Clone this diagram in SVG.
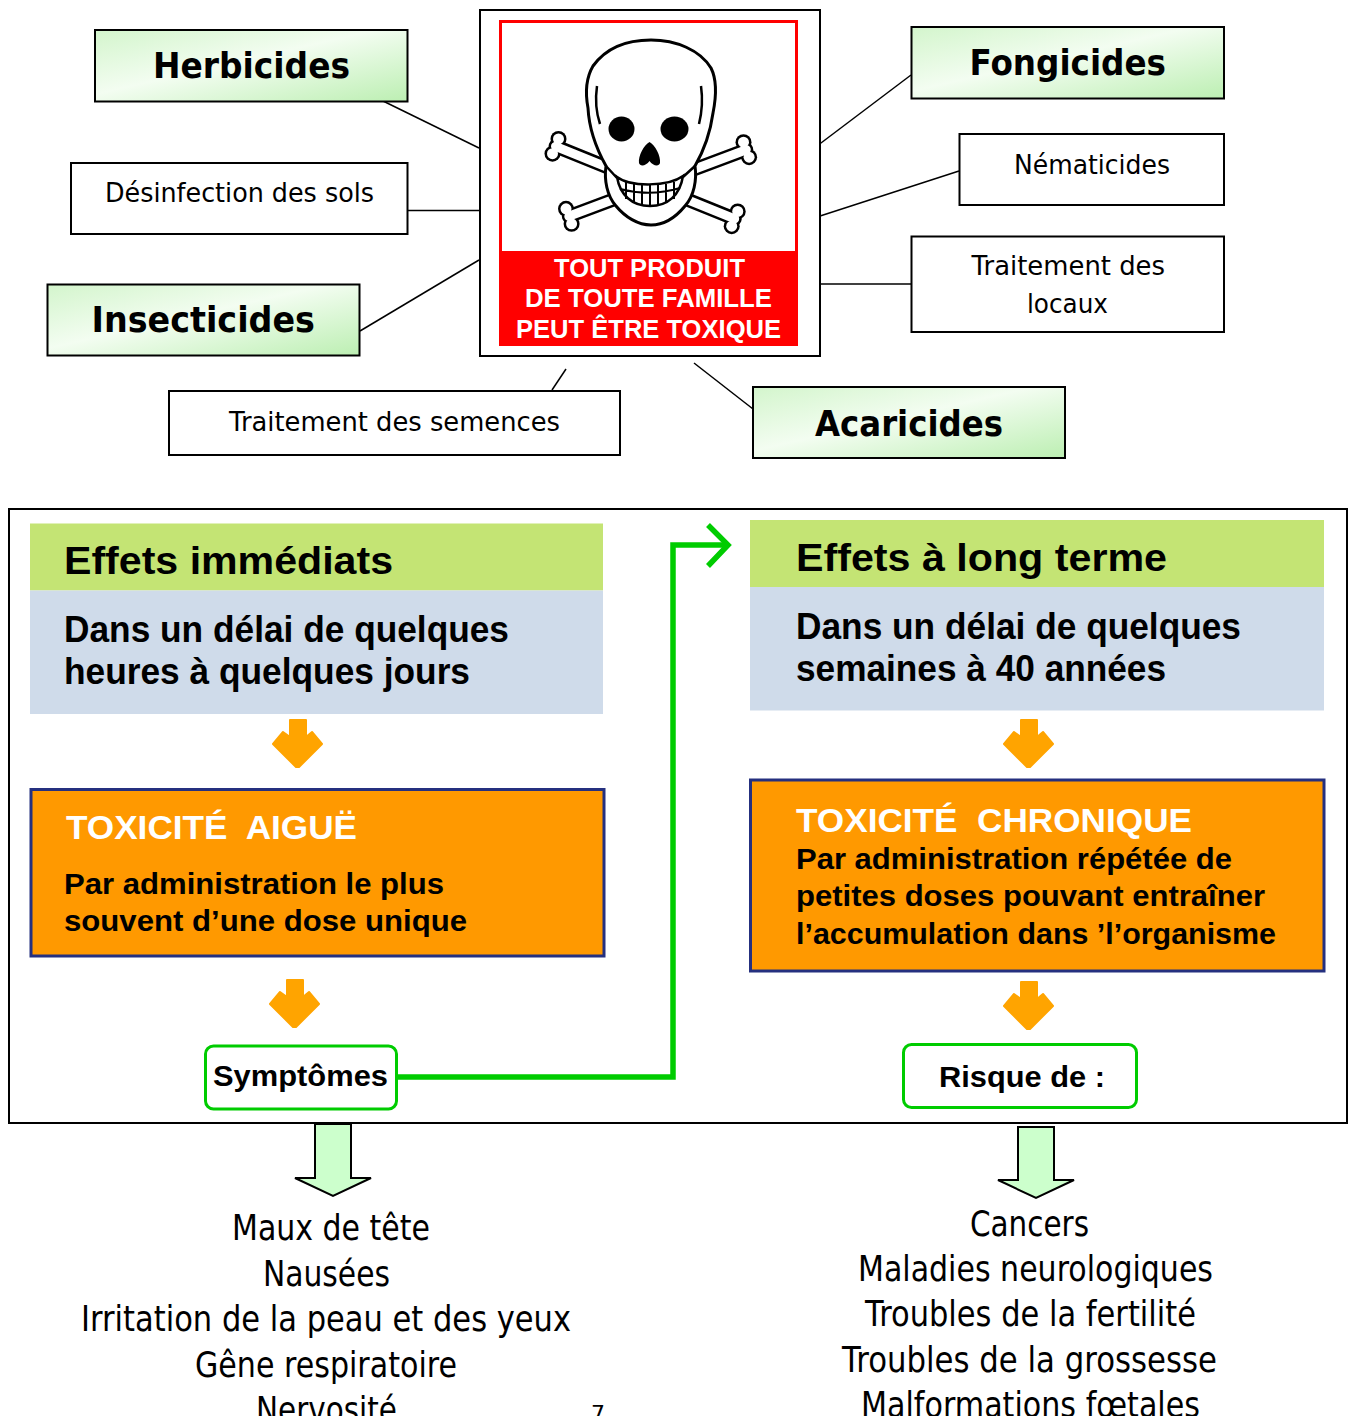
<svg xmlns="http://www.w3.org/2000/svg" width="1356" height="1416" viewBox="0 0 1356 1416">
<defs>
<linearGradient id="lg" x1="0" y1="0" x2="1" y2="1">
<stop offset="0" stop-color="#d3f5cc"/>
<stop offset="0.45" stop-color="#f3fdf1"/>
<stop offset="1" stop-color="#bcefb2"/>
</linearGradient>
<style>
.box{fill:#fff;stroke:#000;stroke-width:2}
.gbox{fill:url(#lg);stroke:#000;stroke-width:2}
.lbl{font-family:"DejaVu Sans",Verdana,sans-serif;font-size:26px;fill:#000}
.blbl{font-family:"DejaVu Sans",Verdana,sans-serif;font-weight:bold;font-size:36px;fill:#000}
.ar{font-family:"Liberation Sans",Arial,sans-serif;font-weight:bold;fill:#000}
.conn{stroke:#000;stroke-width:1.5;fill:none}
.oarrow{fill:#ffa400;stroke:#ffa400;stroke-width:2;stroke-linejoin:round}
.lst{font-family:"DejaVu Sans",Verdana,sans-serif;font-size:36px;fill:#000}
.garrow{fill:#ccffcc;stroke:#000;stroke-width:2}
.hdr{fill:#c4e474}
.sub{fill:#cfdbea}
.obox{fill:#ff9900;stroke:#25307f;stroke-width:3}
.rbox{fill:#fff;stroke:#00cc00;stroke-width:3}
.sk{fill:#fff;stroke:#000;stroke-width:3;stroke-linejoin:round}
</style>
</defs>
<rect width="1356" height="1416" fill="#fff"/>

<g id="connectors">
<line class="conn" x1="383" y1="101" x2="479" y2="148"/>
<line class="conn" x1="407" y1="210.5" x2="479" y2="210.5"/>
<line class="conn" x1="360" y1="331" x2="479" y2="260"/>
<line class="conn" x1="552" y1="390" x2="566" y2="369"/>
<line class="conn" x1="694" y1="363" x2="753" y2="409"/>
<line class="conn" x1="911" y1="75" x2="817" y2="146"/>
<line class="conn" x1="959" y1="171" x2="817" y2="217"/>
<line class="conn" x1="911" y1="284" x2="817" y2="284"/>
<polyline points="396,1077 673,1077 673,545 727,545" fill="none" stroke="#00cc00" stroke-width="5.5"/>
<polyline points="708,525 728,545 708,566" fill="none" stroke="#00cc00" stroke-width="5.5"/>
<polygon class="garrow" points="315,1124 351,1124 351,1178 371,1178 333,1196 295,1178 315,1178"/>
<polygon class="garrow" points="1018,1127 1054,1127 1054,1180 1074,1180 1036,1198 998,1180 1018,1180"/>
</g>

<g id="poison">
<rect x="480" y="10" width="340" height="346" fill="#fff" stroke="#000" stroke-width="2"/>
<rect x="500.5" y="21.5" width="296" height="323" fill="#fff" stroke="#ff0000" stroke-width="3"/>
<rect x="500" y="251" width="297" height="94" fill="#ff0000"/>
<g id="bones">
<g fill="#000" stroke="#000">
<line x1="555.5" y1="146.3" x2="734.7" y2="218.8" stroke-width="14" stroke-linecap="round"/>
<line x1="746.3" y1="149.7" x2="568.8" y2="216.3" stroke-width="14" stroke-linecap="round"/>
<circle cx="552.5" cy="153.7" r="8" stroke="none"/><circle cx="558.5" cy="138.9" r="8" stroke="none"/>
<circle cx="731.7" cy="226.2" r="8" stroke="none"/><circle cx="737.7" cy="211.4" r="8" stroke="none"/>
<circle cx="749.1" cy="157.2" r="8" stroke="none"/><circle cx="743.5" cy="142.2" r="8" stroke="none"/>
<circle cx="571.6" cy="223.8" r="8" stroke="none"/><circle cx="566" cy="208.8" r="8" stroke="none"/>
</g>
<g fill="#fff" stroke="#fff">
<line x1="555.5" y1="146.3" x2="734.7" y2="218.8" stroke-width="9" stroke-linecap="round"/>
<line x1="746.3" y1="149.7" x2="568.8" y2="216.3" stroke-width="9" stroke-linecap="round"/>
<circle cx="552.5" cy="153.7" r="5.5" stroke="none"/><circle cx="558.5" cy="138.9" r="5.5" stroke="none"/>
<circle cx="731.7" cy="226.2" r="5.5" stroke="none"/><circle cx="737.7" cy="211.4" r="5.5" stroke="none"/>
<circle cx="749.1" cy="157.2" r="5.5" stroke="none"/><circle cx="743.5" cy="142.2" r="5.5" stroke="none"/>
<circle cx="571.6" cy="223.8" r="5.5" stroke="none"/><circle cx="566" cy="208.8" r="5.5" stroke="none"/>
</g>
</g>
<g id="skull">
<path class="sk" d="M606,166 C596,148 589,128 588,108 C585,92 586,78 593,66 C606,48 627,40 651,40 C676,40 700,50 711,68 C717,80 716,98 713,113 C710,135 703,152 695,166 C697,180 694,196 685,206 C676,217 664,225 651,225 C638,225 625,217 616,206 C607,196 604,180 606,166 Z"/>
<path d="M597,86 C595,100 596,112 600,124 M701,86 C703,100 702,112 699,124 M606,166 L617,178 M695,166 L683,177" fill="none" stroke="#000" stroke-width="2.5"/>
<ellipse cx="621.5" cy="129" rx="13" ry="12.5" fill="#000"/>
<ellipse cx="674.5" cy="129" rx="14" ry="12.5" fill="#000"/>
<path d="M649.5,142 C644,145 638,156 639,163 C640,167 646,166 649.5,161 C653,166 659,167 660,163 C661,156 655,145 649.5,142 Z" fill="#000"/>
<path d="M617,177 C630,187 668,187 683,176 C680,195 668,206 650,206 C632,206 620,195 617,177 Z" fill="#fff" stroke="#000" stroke-width="2.5"/>
<path d="M620,189 Q650,197 680,188 M626,182 L626,199 M634,184 L634,203 M642,185 L642,205 M650,185 L650,206 M658,185 L658,205 M666,184 L666,203 M674,182 L674,199" fill="none" stroke="#000" stroke-width="2"/>
</g>
<text class="ar" font-size="25.5" fill="#fff" style="fill:#fff" x="554" y="276.5" textLength="191" lengthAdjust="spacingAndGlyphs">TOUT PRODUIT</text>
<text class="ar" font-size="25.5" style="fill:#fff" x="525" y="307" textLength="247" lengthAdjust="spacingAndGlyphs">DE TOUTE FAMILLE</text>
<text class="ar" font-size="25.5" style="fill:#fff" x="516" y="337.5" textLength="265" lengthAdjust="spacingAndGlyphs">PEUT ÊTRE TOXIQUE</text>
</g>

<g id="herbicides">
<rect class="gbox" x="95" y="30" width="312.5" height="71.5"/>
<text class="blbl" x="153" y="78" textLength="197" lengthAdjust="spacingAndGlyphs">Herbicides</text>
</g>
<g id="desinfection">
<rect class="box" x="71" y="163" width="336.5" height="71"/>
<text class="lbl" x="105" y="201.5" textLength="269" lengthAdjust="spacingAndGlyphs">Désinfection des sols</text>
</g>
<g id="insecticides">
<rect class="gbox" x="47.5" y="284.5" width="312" height="71"/>
<text class="blbl" x="91.5" y="331.5" textLength="223.5" lengthAdjust="spacingAndGlyphs">Insecticides</text>
</g>
<g id="semences">
<rect class="box" x="169" y="391" width="451" height="64"/>
<text class="lbl" x="229" y="430.5" textLength="331" lengthAdjust="spacingAndGlyphs">Traitement des semences</text>
</g>
<g id="acaricides">
<rect class="gbox" x="753" y="387" width="312" height="71"/>
<text class="blbl" x="815" y="435.5" textLength="188" lengthAdjust="spacingAndGlyphs">Acaricides</text>
</g>
<g id="fongicides">
<rect class="gbox" x="911.5" y="27" width="312.5" height="71.5"/>
<text class="blbl" x="969.5" y="75" textLength="196.5" lengthAdjust="spacingAndGlyphs">Fongicides</text>
</g>
<g id="nematicides">
<rect class="box" x="959.5" y="134" width="264.5" height="71"/>
<text class="lbl" x="1014" y="174" textLength="156" lengthAdjust="spacingAndGlyphs">Nématicides</text>
</g>
<g id="locaux">
<rect class="box" x="911.5" y="236.5" width="312.5" height="95.5"/>
<text class="lbl" x="971.5" y="275" textLength="193.5" lengthAdjust="spacingAndGlyphs">Traitement des</text>
<text class="lbl" x="1027" y="313.3" textLength="81" lengthAdjust="spacingAndGlyphs">locaux</text>
</g>

<g id="frame">
<rect x="9" y="509" width="1338" height="614" fill="none" stroke="#000" stroke-width="2"/>
</g>

<g id="effets-immediats">
<rect class="hdr" x="30" y="523.5" width="573" height="67"/>
<rect class="sub" x="30" y="590.5" width="573" height="123.5"/>
<text class="ar" font-size="38" x="64" y="574" textLength="329" lengthAdjust="spacingAndGlyphs">Effets immédiats</text>
<text class="ar" font-size="36" x="64" y="642" textLength="445" lengthAdjust="spacingAndGlyphs">Dans un délai de quelques</text>
<text class="ar" font-size="36" x="64" y="684" textLength="406" lengthAdjust="spacingAndGlyphs">heures à quelques jours</text>
</g>
<g id="effets-long-terme">
<rect class="hdr" x="750" y="520" width="574" height="67"/>
<rect class="sub" x="750" y="587" width="574" height="123.5"/>
<text class="ar" font-size="38" x="796" y="570.5" textLength="371" lengthAdjust="spacingAndGlyphs">Effets à long terme</text>
<text class="ar" font-size="36" x="796" y="638.5" textLength="445" lengthAdjust="spacingAndGlyphs">Dans un délai de quelques</text>
<text class="ar" font-size="36" x="796" y="680.5" textLength="370" lengthAdjust="spacingAndGlyphs">semaines à 40 années</text>
</g>

<g id="arrows-orange">
<polygon class="oarrow" points="290,720 306,720 306,737 312,732 322,744 299,767 296,767 273,744 283,732 290,737"/>
<polygon class="oarrow" points="287,980 303,980 303,997 309,992 319,1004 296,1027 293,1027 270,1004 280,992 287,997"/>
<polygon class="oarrow" points="1021,720 1037,720 1037,737 1043,732 1053,744 1030,767 1027,767 1004,744 1014,732 1021,737"/>
<polygon class="oarrow" points="1021,982 1037,982 1037,999 1043,994 1053,1006 1030,1029 1027,1029 1004,1006 1014,994 1021,999"/>
</g>

<g id="toxicite-aigue">
<rect class="obox" x="31" y="789.5" width="573" height="166.5"/>
<text class="ar" font-size="33" style="fill:#fff;white-space:pre" x="66" y="838.5" textLength="291" lengthAdjust="spacingAndGlyphs">TOXICITÉ  AIGUË</text>
<text class="ar" font-size="29" x="64" y="893.5" textLength="380" lengthAdjust="spacingAndGlyphs">Par administration le plus</text>
<text class="ar" font-size="29" x="64" y="931" textLength="403" lengthAdjust="spacingAndGlyphs">souvent d’une dose unique</text>
</g>
<g id="toxicite-chronique">
<rect class="obox" x="750.5" y="780" width="573.5" height="191"/>
<text class="ar" font-size="33" style="fill:#fff;white-space:pre" x="796" y="832" textLength="396" lengthAdjust="spacingAndGlyphs">TOXICITÉ  CHRONIQUE</text>
<text class="ar" font-size="29" x="796" y="868.5" textLength="436" lengthAdjust="spacingAndGlyphs">Par administration répétée de</text>
<text class="ar" font-size="29" x="796" y="906" textLength="469" lengthAdjust="spacingAndGlyphs">petites doses pouvant entraîner</text>
<text class="ar" font-size="29" x="796" y="943.5" textLength="480" lengthAdjust="spacingAndGlyphs">l’accumulation dans ’l’organisme</text>
</g>

<g id="symptomes">
<rect class="rbox" x="205.5" y="1046" width="191" height="63" rx="8"/>
<text class="ar" font-size="29" x="213" y="1086" textLength="175" lengthAdjust="spacingAndGlyphs">Symptômes</text>
</g>
<g id="risque">
<rect class="rbox" x="903.5" y="1044.5" width="233" height="63" rx="8"/>
<text class="ar" font-size="29" x="939" y="1087" textLength="166" lengthAdjust="spacingAndGlyphs">Risque de :</text>
</g>

<g id="liste-symptomes">
<text class="lst" x="232" y="1240" textLength="198" lengthAdjust="spacingAndGlyphs">Maux de tête</text>
<text class="lst" x="263" y="1285.5" textLength="127" lengthAdjust="spacingAndGlyphs">Nausées</text>
<text class="lst" x="81" y="1331" textLength="490" lengthAdjust="spacingAndGlyphs">Irritation de la peau et des yeux</text>
<text class="lst" x="195" y="1376.5" textLength="262" lengthAdjust="spacingAndGlyphs">Gêne respiratoire</text>
<text class="lst" x="256" y="1422" textLength="141" lengthAdjust="spacingAndGlyphs">Nervosité</text>
</g>
<g id="liste-risques">
<text class="lst" x="970" y="1236" textLength="119" lengthAdjust="spacingAndGlyphs">Cancers</text>
<text class="lst" x="858" y="1281" textLength="355" lengthAdjust="spacingAndGlyphs">Maladies neurologiques</text>
<text class="lst" x="865" y="1326" textLength="331" lengthAdjust="spacingAndGlyphs">Troubles de la fertilité</text>
<text class="lst" x="842" y="1371.5" textLength="375" lengthAdjust="spacingAndGlyphs">Troubles de la grossesse</text>
<text class="lst" x="861" y="1416.5" textLength="339" lengthAdjust="spacingAndGlyphs">Malformations fœtales</text>
</g>
<text id="page-number" class="lst" font-size="22" style="font-size:22px" x="591" y="1421">7</text>
</svg>
